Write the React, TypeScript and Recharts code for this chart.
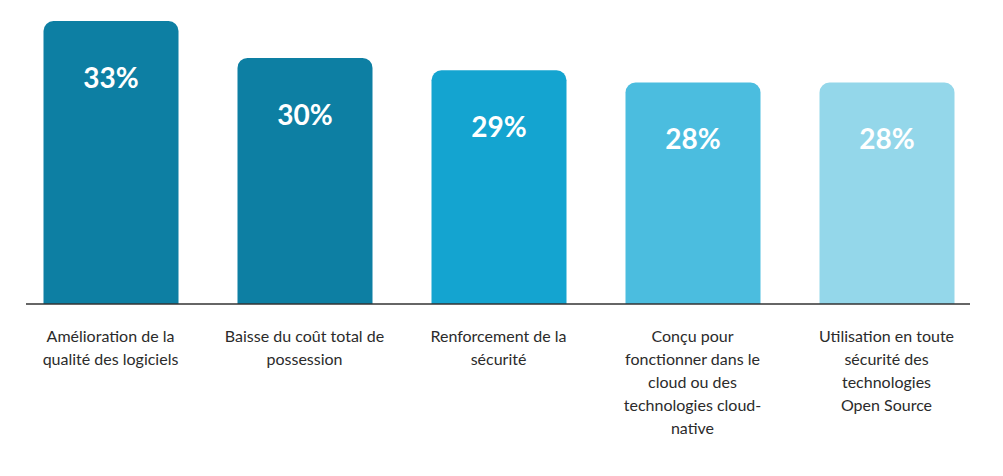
import { Bar, BarChart, Cell, LabelList, XAxis, YAxis } from "recharts";

const CATEGORIES = [
  ["Amélioration de la", "qualité des logiciels"],
  ["Baisse du coût total de", "possession"],
  ["Renforcement de la", "sécurité"],
  ["Conçu pour", "fonctionner dans le", "cloud ou des", "technologies cloud-", "native"],
  ["Utilisation en toute", "sécurité des", "technologies", "Open Source"],
];
const VALUES = [33, 30, 29, 28, 28];
const COLORS = ["#0d7fa3", "#0d7fa3", "#14a4d0", "#4bbddf", "#94d7ea"];

const data = VALUES.map((v, i) => ({ name: String(i), value: v }));

const FONT = "Lato, 'Open Sans', sans-serif";

function CategoryTick(props: any) {
  const { x, y, payload } = props;
  const lines = CATEGORIES[Number(payload.value)] ?? [];
  return (
    <g transform={`translate(${x},${y})`}>
      {lines.map((line, i) => (
        <text
          key={i}
          x={0}
          y={24 + i * 23}
          dy="0.35em"
          textAnchor="middle"
          fontFamily={FONT}
          fontSize={16}
          fill="#2b2b2b"
        >
          {line}
        </text>
      ))}
    </g>
  );
}

function ValueLabel(props: any) {
  const { x, y, width, value } = props;
  return (
    <text
      x={x + width / 2}
      y={y + 57}
      dy="0.35em"
      textAnchor="middle"
      fontFamily={FONT}
      fontSize={28}
      fontWeight={700}
      fill="#ffffff"
    >
      {value}%
    </text>
  );
}

export default function App() {
  return (
    <div style={{ margin: -8, width: 1003, height: 476, background: "#fff" }}>
      <BarChart
        width={1003}
        height={476}
        data={data}
        margin={{ top: 21, right: 33, bottom: 0, left: 26 }}
        barSize={135}
      >
        <XAxis
          dataKey="name"
          axisLine={{ stroke: "#333333", strokeWidth: 1.5 }}
          tickLine={false}
          tick={<CategoryTick />}
          interval={0}
          height={172}
          padding={{ left: -12.5, right: -13.5 }}
        />
        <YAxis hide domain={[10, 33]} allowDataOverflow />
        <Bar dataKey="value" radius={[10, 10, 0, 0]} isAnimationActive={false}>
          {data.map((_, i) => (
            <Cell key={i} fill={COLORS[i]} />
          ))}
          <LabelList dataKey="value" content={<ValueLabel />} />
        </Bar>
      </BarChart>
    </div>
  );
}
